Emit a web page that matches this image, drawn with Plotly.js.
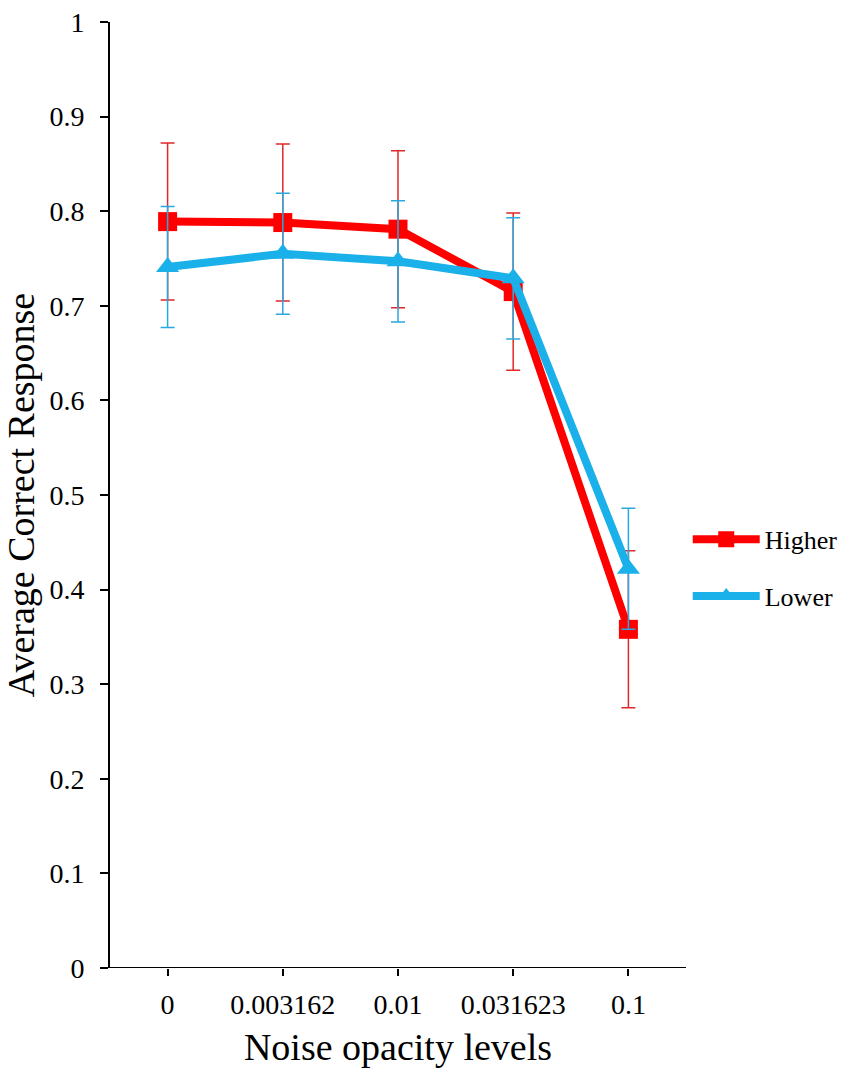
<!DOCTYPE html>
<html>
<head>
<meta charset="utf-8">
<script src="https://cdn.plot.ly/plotly-3.0.1.min.js"></script>
<style>html,body{margin:0;padding:0;background:#fff;}#chart{width:851px;height:1082px;}</style>
</head>
<body>
<div id="chart"></div>
<script>
const categories = ["0", "0.003162", "0.01", "0.031623", "0.1"];
const higherValues = [0.789, 0.788, 0.781, 0.715, 0.358];
const higherErrors = [0.083, 0.083, 0.083, 0.083, 0.083];
const lowerValues = [0.741, 0.755, 0.747, 0.729, 0.422];
const lowerErrors = [0.064, 0.064, 0.064, 0.064, 0.064];
const yTickValues = [0, 0.1, 0.2, 0.3, 0.4, 0.5, 0.6, 0.7, 0.8, 0.9, 1];
const yTickLabels = ["0", "0.1", "0.2", "0.3", "0.4", "0.5", "0.6", "0.7", "0.8", "0.9", "1"];

const serif = "Liberation Serif, Times New Roman, serif";

const traces = [
  {
    x: categories, y: higherValues, name: "Higher", type: "scatter", mode: "lines+markers",
    legendgroup: "h",
    line: {color: "#FF0000", width: 8},
    marker: {symbol: "square", size: 19, color: "#FF0000"},
    error_y: {type: "data", array: higherErrors, visible: true, color: "#E0282A", thickness: 1.5, width: 7}
  },
  {
    x: categories, y: lowerValues, name: "Lower", type: "scatter", mode: "lines+markers",
    legendgroup: "l",
    line: {color: "#1AB0EA", width: 8},
    marker: {symbol: "triangle-up", size: 20, color: "#1AB0EA"},
    error_y: {type: "data", array: lowerErrors, visible: true, color: "#2AA8E0", thickness: 1.5, width: 7}
  }
];

const layout = {
  width: 851, height: 1082,
  margin: {l: 110, r: 165, t: 22, b: 114, autoexpand: false},
  paper_bgcolor: "#fff", plot_bgcolor: "#fff",
  font: {family: serif, color: "#000"},
  showlegend: true,
  legend: {
    x: 1.003, y: 0.423, xanchor: "left", yanchor: "middle",
    font: {family: serif, size: 26, color: "#000"},
    itemwidth: 67, tracegroupgap: 20, traceorder: "grouped",
    bgcolor: "rgba(0,0,0,0)"
  },
  xaxis: {
    type: "category", range: [-0.5, 4.5],
    showgrid: false, zeroline: false, showline: false,
    ticks: "outside", ticklen: 7, tickwidth: 2, tickcolor: "#000",
    tickfont: {family: serif, size: 28, color: "#000"},
    ticklabelstandoff: 4,
    title: {text: "Noise opacity levels", font: {family: serif, size: 38, color: "#000"}, standoff: 14}
  },
  yaxis: {
    range: [0, 1], tickvals: yTickValues, ticktext: yTickLabels,
    showgrid: false, zeroline: false, showline: true, linecolor: "#000", linewidth: 2,
    ticks: "outside", ticklen: 8, tickwidth: 2, tickcolor: "#000",
    tickfont: {family: serif, size: 28, color: "#000"},
    ticklabelstandoff: 10,
    title: {text: "Average Correct Response", font: {family: serif, size: 38, color: "#000"}, standoff: 16}
  },
  shapes: [
    {type: "line", xref: "paper", yref: "y", x0: -0.014, x1: 1.0, y0: 0, y1: 0,
     line: {color: "#000", width: 2}, layer: "below"}
  ]
};

Plotly.newPlot("chart", traces, layout, {staticPlot: true, displayModeBar: false});
</script>
</body>
</html>
